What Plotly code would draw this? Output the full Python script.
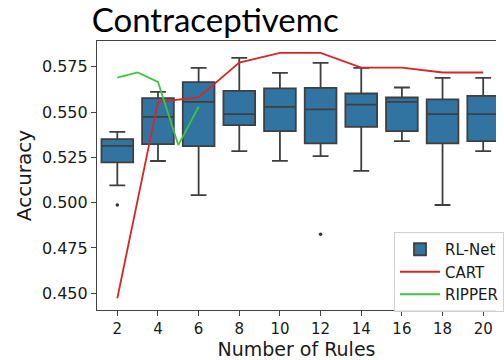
import plotly.graph_objects as go

# ---- data ----
rules = [2, 4, 6, 8, 10, 12, 14, 16, 18, 20]
rl_lower = [0.5095, 0.5230, 0.5042, 0.5285, 0.5231, 0.5257, 0.5176, 0.5340, 0.4987, 0.5285]
rl_q1 = [0.5222, 0.5323, 0.5312, 0.5428, 0.5395, 0.5327, 0.5419, 0.5395, 0.5327, 0.5340]
rl_median = [0.5314, 0.5474, 0.5557, 0.5489, 0.5529, 0.5515, 0.5542, 0.5557, 0.5489, 0.5489]
rl_q3 = [0.5351, 0.5577, 0.5666, 0.5618, 0.5631, 0.5634, 0.5603, 0.5581, 0.5570, 0.5590]
rl_upper = [0.5391, 0.5612, 0.5744, 0.5800, 0.5717, 0.5772, 0.5744, 0.5636, 0.5689, 0.5689]
outlier_x = [2, 12]
outlier_y = [0.4987, 0.4825]

cart_x = [2, 4, 6, 8, 10, 12, 14, 16, 18, 20]
cart_y = [0.4472, 0.5557, 0.5581, 0.5774, 0.5827, 0.5827, 0.5746, 0.5746, 0.5719, 0.5719]

ripper_x = [2, 3, 4, 5, 6]
ripper_y = [0.5691, 0.5719, 0.5667, 0.5318, 0.5530]

y_ticks = [0.450, 0.475, 0.500, 0.525, 0.550, 0.575]
y_tick_labels = ["0.450", "0.475", "0.500", "0.525", "0.550", "0.575"]

BOX_FILL = "#3274a1"
EDGE = "#3f3f3f"

fig = go.Figure()
fig.add_trace(go.Box(
    x=rules, q1=rl_q1, median=rl_median, q3=rl_q3,
    lowerfence=rl_lower, upperfence=rl_upper,
    name="RL-Net", fillcolor=BOX_FILL,
    line=dict(color=EDGE, width=1.8),
    width=1.56, whiskerwidth=0.5, boxpoints=False,
))
fig.add_trace(go.Scatter(
    x=outlier_x, y=outlier_y, mode="markers", showlegend=False,
    marker=dict(color="#333333", size=3.5),
))
fig.add_trace(go.Scatter(
    x=cart_x, y=cart_y, mode="lines", name="CART",
    line=dict(color="#d62728", width=1.8),
))
fig.add_trace(go.Scatter(
    x=ripper_x, y=ripper_y, mode="lines", name="RIPPER",
    line=dict(color="#3ec43e", width=1.8),
))

fig.update_layout(
    width=504, height=360,
    margin=dict(l=97, r=0, t=41, b=50),
    paper_bgcolor="white", plot_bgcolor="white",
    font=dict(family="DejaVu Sans", color="#1a1a1a", size=16),
    title=dict(text="Contraceptivemc", font=dict(family="Lato", size=33, color="black"),
               xref="container", x=0.182, xanchor="left",
               yref="container", y=0.975, yanchor="top", pad=dict(t=0, b=0)),
    showlegend=True,
    legend=dict(x=0.745, y=0.29, xanchor="left", yanchor="top",
                bgcolor="rgba(255,255,255,0.85)", bordercolor="#d0d0d0", borderwidth=1,
                font=dict(family="DejaVu Sans", size=15, color="#1a1a1a"),
                tracegroupgap=0, itemwidth=40),
)
fig.update_xaxes(
    range=[1.0, 20.63], tickvals=rules, ticktext=[str(r) for r in rules],
    tickfont=dict(size=15),
    showline=True, linecolor="#444444", linewidth=1.2, mirror=True,
    ticks="outside", ticklen=5, tickcolor="#444444",
    showgrid=False, zeroline=False,
    title=dict(text="Number of Rules", font=dict(size=19), standoff=6),
)
fig.update_yaxes(
    range=[0.4407, 0.5893], tickvals=y_ticks, ticktext=y_tick_labels,
    showline=True, linecolor="#444444", linewidth=1.2,
    ticks="outside", ticklen=5, tickcolor="#444444",
    showgrid=False, zeroline=False,
    title=dict(text="Accuracy", font=dict(size=20), standoff=4),
)

fig.write_html("out.html", config={"displayModeBar": False},
               post_script="document.body.style.margin='0';")
